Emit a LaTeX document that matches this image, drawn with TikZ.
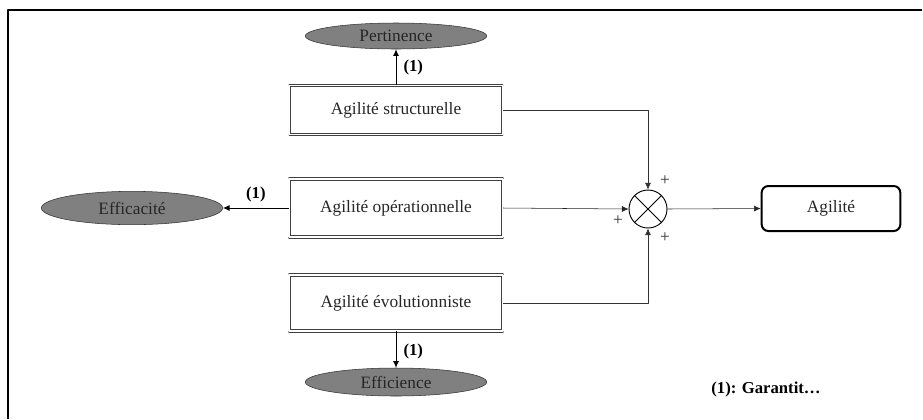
\documentclass[tikz,border=0pt]{standalone}
\usepackage{fontspec}
\setmainfont{Liberation Serif}
\usetikzlibrary{shapes.geometric,arrows.meta}

\begin{document}
\begin{tikzpicture}[x=0.75pt, y=-0.75pt, line join=round,
		txt/.style={font=\fontsize{13}{15}\selectfont, text=black!85},
		agbox/.style={txt, draw=black!75, double, double distance=1.3pt, line width=0.7pt, minimum width=160pt, inner sep=0pt},
		effet/.style={txt, ellipse, draw=black!80, fill=black!50, inner sep=0pt, minimum width=136pt},
		garant/.style={font=\fontsize{12.5}{15}\selectfont\bfseries},
		signe/.style={font=\fontsize{13}{15}\selectfont, text=black!80},
		>={Latex[length=5pt,width=4.5pt]}]
		\useasboundingbox (0,0) rectangle (923,419);
		
		% cadre
		\draw[line width=1.6pt] (8,419) -- (8,10) -- (922,10);
		
		\node[agbox, minimum height=36.75pt] (struct) at (396,110) {Agilité structurelle};
		\node[agbox, minimum height=43.5pt] (oper) at (396,208) {Agilité opérationnelle};
		\node[agbox, minimum height=42pt] (evol) at (396,303) {Agilité évolutionniste};
		
		\node[effet, minimum height=19.5pt] (pert) at (396,36) {Pertinence};
		\node[effet, minimum height=25pt] (effic) at (132,208) {Efficacité};
		\node[effet, minimum height=21pt] (effi) at (396,382) {Efficience};
		
		\node[circle, draw, line width=0.7pt, minimum size=28.5pt, inner sep=0pt] (sum) at (648,209) {};
		\draw[line width=0.6pt] (sum.north east) -- (sum.south west);
		\draw[line width=0.6pt] (sum.north west) -- (sum.south east);
		
		\node[txt, draw, line width=1.5pt, rounded corners=5pt, minimum width=104pt, minimum height=33.75pt] (agil) at (831,208.5) {Agilité};
		
		% garantit
		\draw[->, line width=0.7pt] (struct.north) -- (pert.south) node[garant, pos=0.5, right=2pt] (g1) {(1)};
		\draw[->, line width=0.7pt] (oper.west) -- (effic.east) node[garant, pos=0.5, above=1pt] (g2) {(1)};
		\draw[->, line width=0.7pt] (evol.south) -- (effi.north) node[garant, pos=0.55, right=2pt] (g3) {(1)};
		
		% somme
		\draw[->, black!80] (struct.east) -| (sum.north);
		\draw[->, black!85] (oper.east) -- (sum.west);
		\draw[->, black!80] (evol.east) -| (sum.south);
		\draw[->, black!85] (sum.east) -- (agil.west);
		
		\node[signe] (p1) at (665,181) {+};
		\node[signe] (p2) at (618,221) {+};
		\node[signe] (p3) at (665,238) {+};
		
		\node[garant] (legende) at (766,389) {(1): Garantit\dots};
		
	\end{tikzpicture}
\end{document}
